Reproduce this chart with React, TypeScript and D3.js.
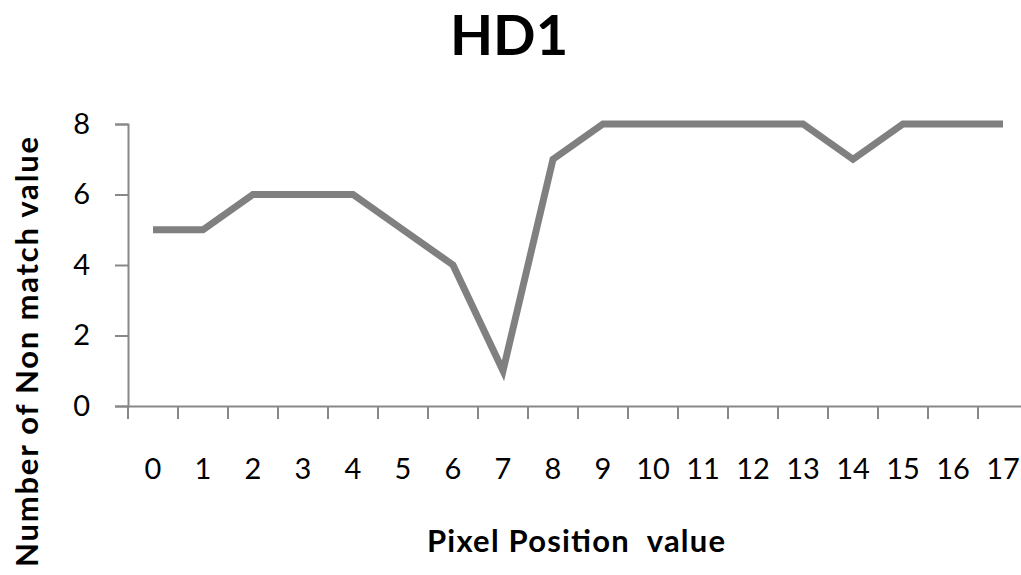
import * as d3 from 'd3';
import { useEffect, useRef } from 'react';

const categories = ['0', '1', '2', '3', '4', '5', '6', '7', '8', '9', '10', '11', '12', '13', '14', '15', '16', '17'];
const nonMatch = [5, 5, 6, 6, 6, 5, 4, 1, 7, 8, 8, 8, 8, 8, 7, 8, 8, 8];
const yTicks = [0, 2, 4, 6, 8];

const W = 1021;
const H = 575;
const FONT = 'Lato, "Open Sans", sans-serif';

export default function App() {
	const ref = useRef<SVGSVGElement>(null);

	useEffect(() => {
		const svg = d3.select(ref.current);
		svg.selectAll('*').remove();

		const x = d3.scaleBand().domain(categories).range([128, 1028]);
		const y = d3.scaleLinear().domain([0, 8]).range([406, 124]);
		const axisColor = '#888888';

		// title
		svg
			.append('text')
			.attr('x', 509)
			.attr('y', 55)
			.attr('text-anchor', 'middle')
			.style('font-family', FONT)
			.style('font-weight', 700)
			.style('font-size', '56px')
			.text('HD1');

		// y axis
		const yAxis = svg.append('g').attr('transform', 'translate(128,0)').call(
			d3.axisLeft(y).tickValues(yTicks).tickSize(13).tickPadding(25).tickFormat(d3.format('d'))
		);
		yAxis.select('.domain').attr('stroke', axisColor).attr('stroke-width', 2);
		yAxis.selectAll('.tick line').attr('stroke', axisColor).attr('stroke-width', 2);
		yAxis
			.selectAll('.tick text')
			.attr('fill', '#000')
			.style('font-family', FONT)
			.style('font-size', '29px');

		// x axis
		const xAxis = svg.append('g').attr('transform', 'translate(0,406)').call(d3.axisBottom(x).tickSize(0).tickPadding(52));
		xAxis.select('.domain').attr('stroke', axisColor).attr('stroke-width', 2);
		xAxis.selectAll('.tick line').remove();
		xAxis
			.selectAll('.tick text')
			.attr('fill', '#000')
			.style('font-family', FONT)
			.style('font-size', '29px');

		// tick marks at band boundaries
		svg
			.append('g')
			.selectAll('line')
			.data(categories)
			.join('line')
			.attr('x1', (d) => x(d)!)
			.attr('x2', (d) => x(d)!)
			.attr('y1', 406)
			.attr('y2', 419)
			.attr('stroke', axisColor)
			.attr('stroke-width', 2);

		// line
		const line = d3
			.line<number>()
			.x((_, i) => x(categories[i])! + x.bandwidth() / 2)
			.y((d) => y(d));
		svg
			.append('path')
			.datum(nonMatch)
			.attr('d', line)
			.attr('fill', 'none')
			.attr('stroke', '#808080')
			.attr('stroke-width', 7)
			.attr('stroke-linejoin', 'miter');

		// axis titles
		svg
			.append('text')
			.attr('x', 576)
			.attr('y', 552)
			.attr('text-anchor', 'middle')
			.attr('textLength', 298)
			.attr('lengthAdjust', 'spacing')
			.style('font-family', FONT)
			.style('font-weight', 700)
			.style('font-size', '31px')
			.attr('xml:space', 'preserve')
			.text('Pixel Position  value');

		svg
			.append('text')
			.attr('transform', 'translate(38,352) rotate(-90)')
			.attr('text-anchor', 'middle')
			.attr('textLength', 430)
			.attr('lengthAdjust', 'spacing')
			.style('font-family', FONT)
			.style('font-weight', 700)
			.style('font-size', '31px')
			.text('Number of Non match value');
	}, []);

	return (
		<svg
			ref={ref}
			width={W}
			height={H}
			style={{ position: 'absolute', left: 0, top: 0, background: '#fff' }}
		></svg>
	);
}
